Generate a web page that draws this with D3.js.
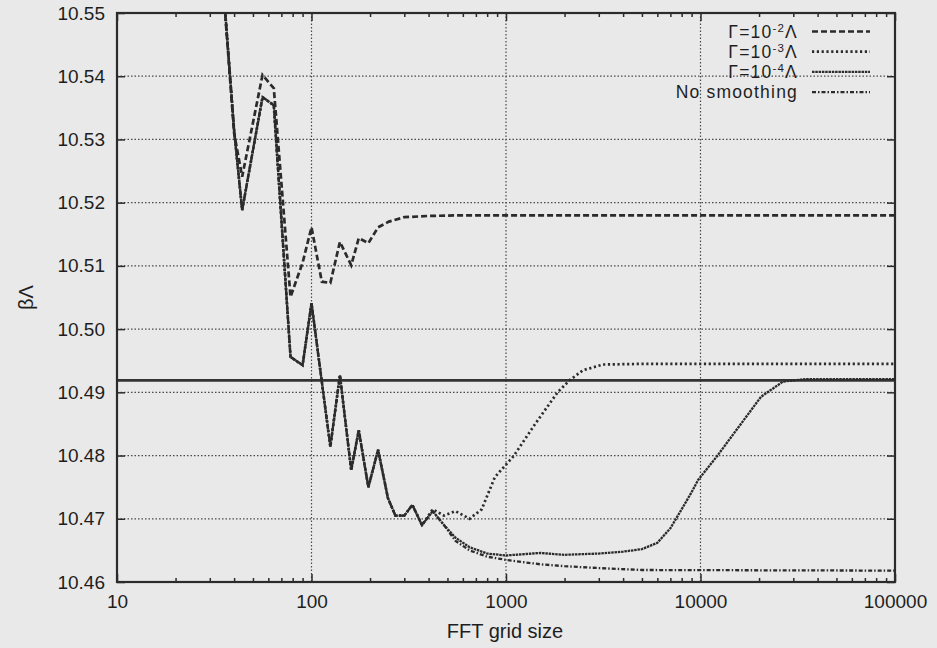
<!DOCTYPE html>
<html>
<head>
<meta charset="utf-8">
<script src="https://cdn.jsdelivr.net/npm/d3@7"></script>
<style>
  body { margin: 0; background: #e9e9e9; }
  svg { display: block; }
  text { font-family: "Liberation Sans", Arial, sans-serif; fill: #1e1e1e; }
</style>
</head>
<body>
<div id="chart"></div>
<script>
// tick values for both axes
var xTickValues = [10, 100, 1000, 10000, 100000];
var yTickValues = [10.46, 10.47, 10.48, 10.49, 10.50, 10.51, 10.52, 10.53, 10.54, 10.55];

// exact value drawn as the solid horizontal line
var exactBeta = 10.4919;

// legend labels (exponent kept separate so it can be raised)
var legendExponents = ["-2", "-3", "-4", null];
var legendNames = ["\u0393=10", "\u0393=10", "\u0393=10", "No smoothing"];

// Gamma = 1e-2 Lambda
var gamma2N = [32, 40, 44, 56, 64, 78, 90, 100, 113, 125, 140, 160, 175, 196, 220, 250, 300, 400, 600, 1000, 100000];
var gamma2Beta = [10.571, 10.531, 10.5241, 10.5402, 10.5381, 10.5051, 10.5105, 10.5161, 10.5075, 10.5073, 10.5138, 10.5101, 10.5144, 10.5136, 10.5161, 10.5170, 10.5177, 10.5179, 10.5180, 10.5180, 10.5180];

// Gamma = 1e-3 Lambda
var gamma3N = [32, 40, 44, 56, 64, 78, 90, 100, 125, 140, 160, 175, 196, 220, 247, 270, 300, 330, 370, 420, 480, 550, 650, 750, 877, 1093, 1420, 1842, 2120, 2489, 3152, 5000, 100000];
var gamma3Beta = [10.571, 10.5315, 10.5188, 10.5367, 10.5354, 10.4956, 10.4943, 10.5041, 10.4814, 10.4927, 10.4777, 10.4840, 10.4750, 10.4809, 10.4733, 10.4705, 10.4705, 10.4722, 10.4690, 10.4715, 10.4705, 10.4712, 10.4700, 10.4715, 10.4766, 10.4799, 10.4851, 10.4900, 10.4919, 10.4935, 10.4944, 10.4945, 10.4945];

// Gamma = 1e-4 Lambda
var gamma4N = [32, 40, 44, 56, 64, 78, 90, 100, 125, 140, 160, 175, 196, 220, 247, 270, 300, 330, 370, 420, 480, 550, 650, 800, 1000, 1500, 2000, 3000, 4000, 5000, 6000, 7000, 8000, 9000, 9705, 12160, 15780, 20470, 26560, 35000, 100000];
var gamma4Beta = [10.571, 10.5315, 10.5188, 10.5367, 10.5354, 10.4956, 10.4943, 10.5041, 10.4814, 10.4927, 10.4777, 10.4840, 10.4750, 10.4809, 10.4733, 10.4705, 10.4705, 10.4722, 10.4690, 10.4712, 10.4690, 10.4670, 10.4655, 10.4645, 10.4642, 10.4646, 10.4643, 10.4645, 10.4648, 10.4652, 10.4662, 10.4685, 10.4715, 10.4742, 10.4761, 10.4799, 10.4846, 10.4893, 10.4917, 10.4921, 10.4921];

// no smoothing
var rawN = [32, 40, 44, 56, 64, 78, 90, 100, 125, 140, 160, 175, 196, 220, 247, 270, 300, 330, 370, 420, 480, 550, 650, 800, 1000, 1500, 2000, 3000, 5000, 100000];
var rawBeta = [10.571, 10.5315, 10.5188, 10.5367, 10.5354, 10.4956, 10.4943, 10.5041, 10.4814, 10.4927, 10.4777, 10.4840, 10.4750, 10.4809, 10.4733, 10.4705, 10.4705, 10.4722, 10.4690, 10.4712, 10.4690, 10.4665, 10.4650, 10.4640, 10.4635, 10.4628, 10.4625, 10.4622, 10.4619, 10.4618];

function makeChart() {
    var svgWidth = 937;
    var svgHeight = 648;
    var plot = { left: 117, right: 895, top: 13, bottom: 582 };
    var ink = "#2b2b2b";

    var svg = d3.select("#chart")
        .append("svg")
        .attr("width", svgWidth)
        .attr("height", svgHeight);

    svg.append("rect")
        .attr("width", svgWidth)
        .attr("height", svgHeight)
        .attr("fill", "#e9e9e9");

    var xScale = d3.scaleLog()
        .domain([10, 100000])
        .range([plot.left, plot.right]);

    var yScale = d3.scaleLinear()
        .domain([10.46, 10.55])
        .range([plot.bottom, plot.top]);

    // dotted grid
    var grid = svg.append("g")
        .attr("stroke", "#4a4a4a")
        .attr("stroke-width", 1.2)
        .attr("stroke-dasharray", "1.5,2");

    grid.selectAll(".hgrid")
        .data(yTickValues.slice(1, -1))
        .enter()
        .append("line")
        .attr("x1", plot.left)
        .attr("x2", plot.right)
        .attr("y1", d => yScale(d))
        .attr("y2", d => yScale(d));

    grid.selectAll(".vgrid")
        .data(xTickValues.slice(1, -1))
        .enter()
        .append("line")
        .attr("x1", d => xScale(d))
        .attr("x2", d => xScale(d))
        .attr("y1", plot.top)
        .attr("y2", plot.bottom);

    // axes with inward ticks
    var minorTicks = xScale.ticks().filter(d => xTickValues.indexOf(d) < 0);

    function styleAxis(g) {
        g.select(".domain").remove();
        g.selectAll("line").attr("stroke", ink).attr("stroke-width", 1.5);
        g.selectAll("text")
            .style("font-size", "19px")
            .style("font-family", "'Liberation Sans', Arial, sans-serif")
            .attr("fill", "#1e1e1e");
    }

    svg.append("g")
        .attr("transform", `translate(0, ${plot.bottom})`)
        .call(d3.axisBottom(xScale).tickValues(xTickValues).tickFormat(d3.format("d")).tickSizeInner(-8).tickSizeOuter(0).tickPadding(13))
        .call(styleAxis);

    svg.append("g")
        .attr("transform", `translate(0, ${plot.bottom})`)
        .call(d3.axisBottom(xScale).tickValues(minorTicks).tickFormat("").tickSizeInner(-4).tickSizeOuter(0))
        .call(styleAxis);

    svg.append("g")
        .attr("transform", `translate(0, ${plot.top})`)
        .call(d3.axisTop(xScale).tickValues(xTickValues).tickFormat("").tickSizeInner(-8).tickSizeOuter(0))
        .call(styleAxis);

    svg.append("g")
        .attr("transform", `translate(0, ${plot.top})`)
        .call(d3.axisTop(xScale).tickValues(minorTicks).tickFormat("").tickSizeInner(-4).tickSizeOuter(0))
        .call(styleAxis);

    svg.append("g")
        .attr("transform", `translate(${plot.left}, 0)`)
        .call(d3.axisLeft(yScale).tickValues(yTickValues).tickFormat(d3.format(".2f")).tickSizeInner(-8).tickSizeOuter(0).tickPadding(12))
        .call(styleAxis);

    svg.append("g")
        .attr("transform", `translate(${plot.right}, 0)`)
        .call(d3.axisRight(yScale).tickValues(yTickValues).tickFormat("").tickSizeInner(-8).tickSizeOuter(0))
        .call(styleAxis);

    // clip for the curves
    svg.append("clipPath")
        .attr("id", "plotClip")
        .append("rect")
        .attr("x", plot.left)
        .attr("y", plot.top)
        .attr("width", plot.right - plot.left)
        .attr("height", plot.bottom - plot.top);

    var curves = svg.append("g").attr("clip-path", "url(#plotClip)");

    var line = d3.line()
        .x(d => xScale(d[0]))
        .y(d => yScale(d[1]));

    var seriesList = [
        { n: gamma2N, beta: gamma2Beta, dash: "6,3", width: 2.7 },
        { n: gamma3N, beta: gamma3Beta, dash: "2.2,2.6", width: 2.7 },
        { n: gamma4N, beta: gamma4Beta, dash: "2.5,0.8", width: 2.3 },
        { n: rawN, beta: rawBeta, dash: "4,2,1.5,2", width: 2.3 }
    ];

    // exact value
    curves.append("line")
        .attr("x1", plot.left)
        .attr("x2", plot.right)
        .attr("y1", yScale(exactBeta))
        .attr("y2", yScale(exactBeta))
        .attr("stroke", "#333")
        .attr("stroke-width", 2.8);

    seriesList.forEach(function(s) {
        curves.append("path")
            .datum(d3.zip(s.n, s.beta))
            .attr("d", line)
            .attr("fill", "none")
            .attr("stroke", ink)
            .attr("stroke-width", s.width)
            .attr("stroke-dasharray", s.dash);
    });

    // frame
    svg.append("rect")
        .attr("x", plot.left)
        .attr("y", plot.top)
        .attr("width", plot.right - plot.left)
        .attr("height", plot.bottom - plot.top)
        .attr("fill", "none")
        .attr("stroke", ink)
        .attr("stroke-width", 2.2);

    // legend, rows kept far enough apart that raised exponents do not collide
    var legend = svg.append("g");
    var rowY = [31.5, 51.7, 71.9, 92.1];
    legendNames.forEach(function(name, i) {
        var t = legend.append("text")
            .attr("x", 798)
            .attr("y", rowY[i] + 6)
            .attr("text-anchor", "end")
            .style("font-size", "17.5px")
            .style("letter-spacing", "1.2px");
        if (legendExponents[i]) {
            t.append("tspan").text(name);
            t.append("tspan").attr("dy", -6).style("font-size", "11.5px").text(legendExponents[i]);
            t.append("tspan").attr("dy", 6).text("\u039b");
        } else {
            t.text(name);
        }
        legend.append("line")
            .attr("x1", 812)
            .attr("x2", 870)
            .attr("y1", rowY[i])
            .attr("y2", rowY[i])
            .attr("stroke", ink)
            .attr("stroke-width", seriesList[i].width)
            .attr("stroke-dasharray", seriesList[i].dash);
    });

    // axis titles
    svg.append("text")
        .attr("x", 505)
        .attr("y", 638)
        .attr("text-anchor", "middle")
        .style("font-size", "20px")
        .text("FFT grid size");

    svg.append("text")
        .attr("transform", `translate(33, ${(plot.top + plot.bottom) / 2}) rotate(-90)`)
        .attr("text-anchor", "middle")
        .style("font-size", "20px")
        .text("\u03b2\u039b");
}

makeChart();
</script>
</body>
</html>
